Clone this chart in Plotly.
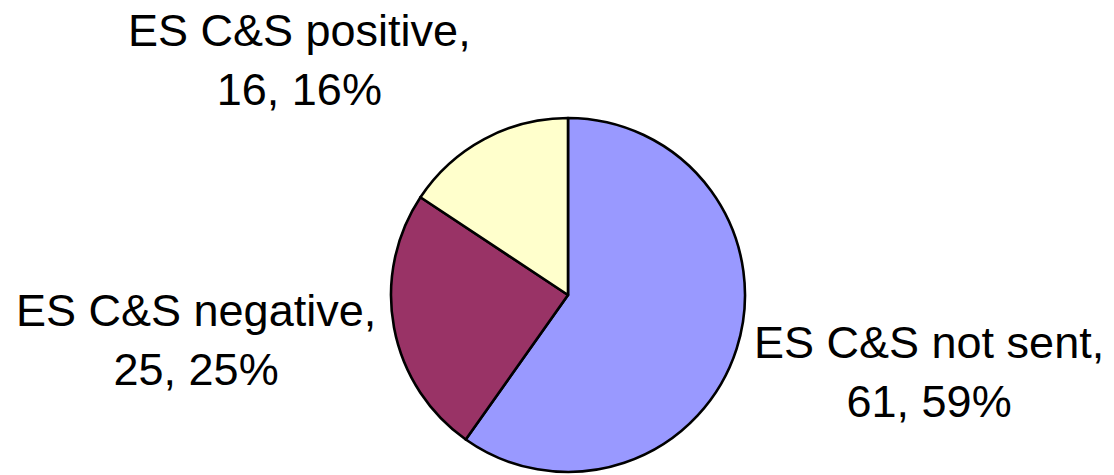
import plotly.graph_objects as go

categories = ["ES C&S not sent", "ES C&S negative", "ES C&S positive"]
counts = [61, 25, 16]
pct_labels = ["59%", "25%", "16%"]
colors = ["#9999FF", "#993366", "#FFFFCC"]

W, H = 1114, 475
cx, cy, r = 568, 295, 177

fig = go.Figure(go.Pie(
    labels=categories,
    values=counts,
    sort=False,
    direction="clockwise",
    rotation=0,
    textinfo="none",
    hoverinfo="label+value+percent",
    marker=dict(colors=colors, line=dict(color="black", width=2.6)),
    domain=dict(x=[(cx - r) / W, (cx + r) / W], y=[1 - (cy + r) / H, 1 - (cy - r) / H]),
    showlegend=False,
))

label_pos = [(929, 372), (196, 340), (299, 60)]
for cat, cnt, pct, (lx, ly) in zip(categories, counts, pct_labels, label_pos):
    fig.add_annotation(
        x=lx / W, y=1 - ly / H, xref="paper", yref="paper",
        text=f"{cat},<br>{cnt}, {pct}",
        showarrow=False, xanchor="center", yanchor="middle", align="center",
        font=dict(family="Arial, Liberation Sans, sans-serif", size=45, color="black"),
    )

fig.update_layout(
    width=W, height=H,
    margin=dict(l=0, r=0, t=0, b=0),
    paper_bgcolor="white", plot_bgcolor="white",
)

fig.write_html("out.html")
